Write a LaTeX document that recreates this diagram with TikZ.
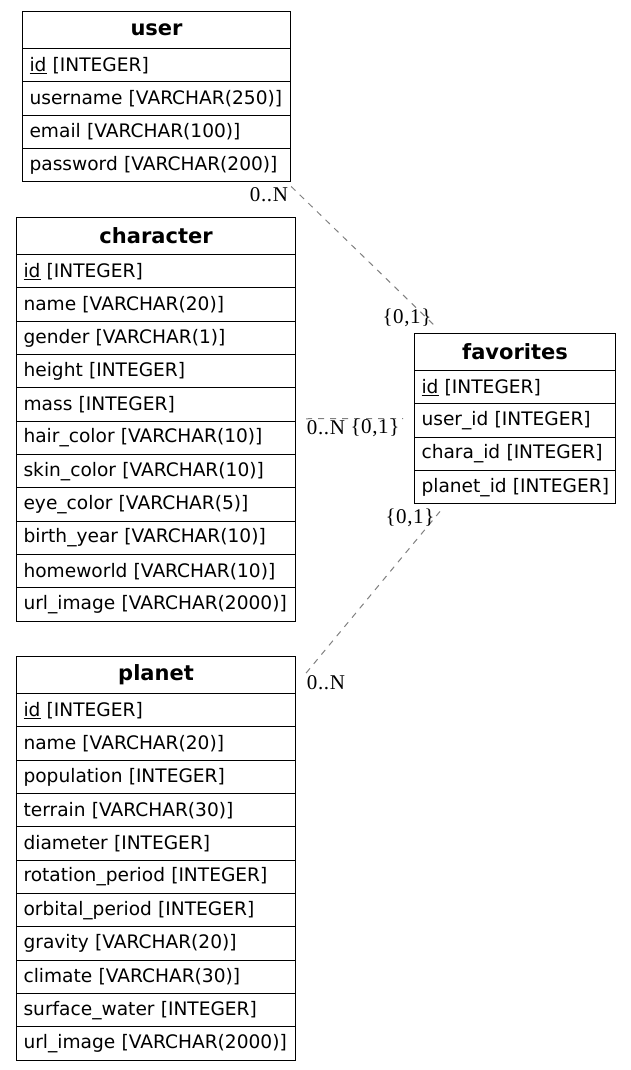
\documentclass[tikz,border=0pt]{standalone}
\usepackage{fontspec}
\setmainfont{DejaVu Sans}
\newfontfamily\lblfont[LetterSpace=3]{Liberation Serif}
\usetikzlibrary{calc}
\tikzset{
  tbl/.style={draw=black, line width=1.1pt, anchor=north west, inner xsep=7pt, inner ysep=0pt},
  hdr/.style={tbl, minimum height=37pt, align=center, font=\fontsize{21}{24}\selectfont\bfseries},
  row/.style={tbl, minimum height=33.33pt, align=left, font=\fontsize{18.6}{22}\selectfont},
  rel/.style={draw=gray, line width=1pt, dash pattern=on 6pt off 6pt},
  card/.style={font=\lblfont\fontsize{21}{24}\selectfont, inner sep=0pt},
}
\begin{document}
\begin{tikzpicture}[x=1pt,y=-1pt]
\useasboundingbox[fill=white] (0,0) rectangle (631,1070);
% user
\node[hdr, text width=254pt] (user-h) at (22,11) {user};
\foreach [count=\i] \t in {{\underline{id} [INTEGER]},{username [VARCHAR(250)]},{email [VARCHAR(100)]},{password [VARCHAR(200)]}}
  \node[row, text width=254pt] (user-\i) at (22,{48+33.33*(\i-1)}) {\mbox{\t}};
% character
\node[hdr, text width=265pt] (char-h) at (16,217) {character};
\foreach [count=\i] \t in {{\underline{id} [INTEGER]},{name [VARCHAR(20)]},{gender [VARCHAR(1)]},{height [INTEGER]},{mass [INTEGER]},{hair\_color [VARCHAR(10)]},{skin\_color [VARCHAR(10)]},{eye\_color [VARCHAR(5)]},{birth\_year [VARCHAR(10)]},{homeworld [VARCHAR(10)]},{url\_image [VARCHAR(2000)]}}
  \node[row, text width=265pt] (char-\i) at (16,{254+33.33*(\i-1)}) {\mbox{\t}};
% planet
\node[hdr, text width=265pt] (planet-h) at (16,656) {planet};
\foreach [count=\i] \t in {{\underline{id} [INTEGER]},{name [VARCHAR(20)]},{population [INTEGER]},{terrain [VARCHAR(30)]},{diameter [INTEGER]},{rotation\_period [INTEGER]},{orbital\_period [INTEGER]},{gravity [VARCHAR(20)]},{climate [VARCHAR(30)]},{surface\_water [INTEGER]},{url\_image [VARCHAR(2000)]}}
  \node[row, text width=265pt] (planet-\i) at (16,{693+33.33*(\i-1)}) {\mbox{\t}};
% favorites
\node[hdr, text width=187pt] (fav-h) at (414,333) {favorites};
\foreach [count=\i] \t in {{\underline{id} [INTEGER]},{user\_id [INTEGER]},{chara\_id [INTEGER]},{planet\_id [INTEGER]}}
  \node[row, text width=187pt] (fav-\i) at (414,{370+33.33*(\i-1)}) {\mbox{\t}};
% relations
\draw[rel] ($(user-4.south east)+(0,4)$) -- ($(fav-h.north west)+(21,-7)$);
\draw[rel] ($(char-5.south east)+(10,-3)$) -- ($(fav-2.west)+(-11,-2)$);
\draw[rel] ($(planet-h.east)+(10,-2)$) -- ($(fav-4.south west)+(26,7)$);
% cardinalities
\node[card] (c1) at (269,195) {0..N};
\node[card] (c2) at (407,318) {\{0,1\}};
\node[card] (c3) at (326,428) {0..N};
\node[card] (c4) at (375,428) {\{0,1\}};
\node[card] (c5) at (410,518) {\{0,1\}};
\node[card] (c6) at (326,683) {0..N};
\end{tikzpicture}
\end{document}
